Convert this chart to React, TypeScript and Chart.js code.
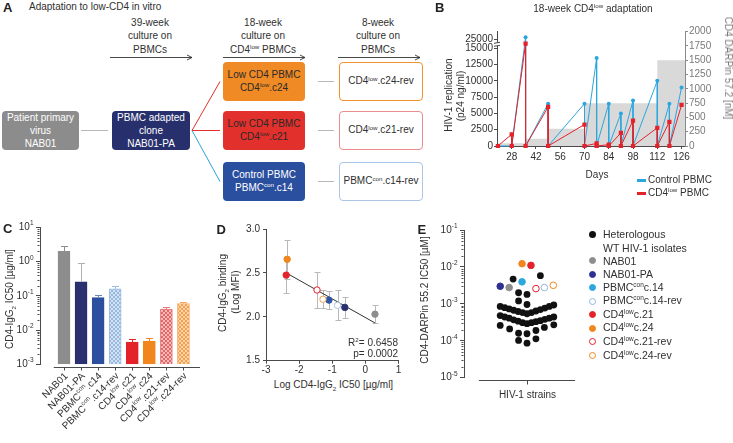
import React, { useEffect, useRef } from 'react';
import { Chart, registerables } from 'chart.js';

Chart.register(...registerables);

const FONT = '"Liberation Sans", Arial, Helvetica, sans-serif';
const TXT = '#303030';
const AXIS = '#4a4a4a';
Chart.defaults.font.family = FONT;
Chart.defaults.font.size = 10;
Chart.defaults.color = TXT;

// ---------------- Panel B data ----------------
const bDaysControl = [20, 28, 36, 36, 49, 49, 70, 70, 77, 77, 84, 84, 91, 91, 98, 98, 112, 112, 119, 119, 126];
const bP24Control = [0, 0, 27000, 0, 6500, 0, 6500, 0, 13500, 0, 6500, 0, 5000, 0, 7000, 0, 10000, 0, 6500, 0, 9000];
const bDaysLow = [20, 28, 28, 36, 36, 49, 49, 70, 70, 77, 77, 84, 84, 91, 91, 98, 98, 112, 112, 119, 119, 126];
const bP24Low = [0, 1800, 0, 20000, 0, 6000, 0, 3300, 0, 400, 0, 200, 0, 2000, 0, 3900, 0, 2800, 0, 3700, 0, 6300];
const bDarpinDays = [20, 36, 49, 70, 112, 119, 128];
const bDarpinConc = [0, 50, 125, 300, 750, 1500, 1500];
const bDayTicks = [28, 42, 56, 70, 84, 98, 112, 126];
const bP24Ticks = [0, 2500, 5000, 7500, 10000, 12500, 15000, 25000];
const bDarpinTicks = [0, 250, 500, 750, 1000, 1250, 1500, 1750, 2000];
const B_BREAK = 15000;
const B_COMPRESS = 0.1425;
const tf = (v: number) => (v <= B_BREAK ? v : B_BREAK + (v - B_BREAK) * B_COMPRESS);

// ---------------- Panel C data ----------------
const cStrains = ['NAB01', 'NAB01-PA', 'PBMC{^con}.c14', 'PBMC{^con}.c14-rev', 'CD4{^low}.c21', 'CD4{^low}.c24', 'CD4{^low}.c21-rev', 'CD4{^low}.c24-rev'];
const cIC50 = [2.0, 0.26, 0.089, 0.16, 0.0045, 0.0048, 0.041, 0.06];
const cIC50Upper = [2.9, 0.9, 0.105, 0.19, 0.0054, 0.0059, 0.048, 0.067];
const cTickValues = [0.001, 0.01, 0.1, 1, 10];
const cTickLabels = ['10{^-3}', '10{^-2}', '10{^-1}', '10{^0}', '10{^1}'];
const C_MIN = 0.001;

// ---------------- Panel D data ----------------
const dStrains = ['NAB01', 'NAB01-PA', 'PBMC{^con}.c14', 'PBMC{^con}.c14-rev', 'CD4{^low}.c21', 'CD4{^low}.c24', 'CD4{^low}.c21-rev', 'CD4{^low}.c24-rev'];
const dLogIC50 = [0.29, -0.62, -1.1, -0.84, -2.39, -2.36, -1.46, -1.28];
const dLogMFI = [2.03, 2.107, 2.19, 2.13, 2.475, 2.655, 2.305, 2.2];
const dSd = [0.1, 0.12, 0.1, 0.17, 0.2, 0.22, 0.2, 0.1];
const dFitX = [-2.39, 0.29];
const dFitY = [2.5, 1.93];
const dTicksX = [-3, -2, -1, 0, 1];
const dTicksY = [1.5, 2.0, 2.5, 3.0];

// ---------------- Panel E data ----------------
const eStrains = ['NAB01', 'NAB01-PA', 'PBMC{^con}c.14', 'PBMC{^con}c.14-rev', 'CD4{^low}c.21', 'CD4{^low}c.24', 'CD4{^low}c.21-rev', 'CD4{^low}c.24-rev'];
const eStrainOffset = [-18, -27, -5, 17.5, 4, -5, 9, 26.5];
const eStrainIC50 = [0.00276, 0.00299, 0.00394, 0.00276, 0.011, 0.0122, 0.00259, 0.00318];
const eWtOffset = [
  -14, 13.5,
  -8.5, 0, -8.5, 0,
  -27, -22.5, -18, -13.5, -9, -4.5, 0, 4.5, 9, 13.5, 18, 22.5, 27,
  -27, -22.5, -18, -13.5, -9, -4.5, 0, 4.5, 9, 13.5, 18, 22.5, 27,
  -27, -17.5, -8.5, 0, 9, 17.5, 27,
  -8.5, 9, 0,
];
const eWtIC50 = [
  0.0047, 0.0058,
  0.002, 0.0018, 0.0012, 0.00096,
  0.00085, 0.00079, 0.00073, 0.00067, 0.00062, 0.00058, 0.00054, 0.00058, 0.00064, 0.0007, 0.00077, 0.00085, 0.00093,
  0.00048, 0.00044, 0.00041, 0.00037, 0.00034, 0.00031, 0.00029, 0.00031, 0.00033, 0.00035, 0.00038, 0.00041, 0.00044,
  0.00026, 0.00021, 0.00016, 0.000155, 0.00019, 0.00023, 0.00027,
  0.000102, 0.000113, 0.000086,
];
const eTickValues = [0.00001, 0.0001, 0.001, 0.01, 0.1];
const eTickLabels = ['10{^-5}', '10{^-4}', '10{^-3}', '10{^-2}', '10{^-1}'];

// ---------------- colours ----------------
const GRAY = '#8d8d8d';
const NAVY = '#2a3070';
const BLUE = '#2c4f9e';
const CYAN = '#2ba6df';
const RED = '#e3222a';
const ORANGE = '#f0861d';

// ---------------- rich text helpers ----------------
type Part = { t: string; k: 'n' | 'sup' | 'sub' };
function parseRich(s: string): Part[] {
  return s
    .split(/(\{[\^_][^}]*\})/)
    .filter((p) => p.length > 0)
    .map((p) => {
      if (p.startsWith('{^')) return { t: p.slice(2, -1), k: 'sup' as const };
      if (p.startsWith('{_')) return { t: p.slice(2, -1), k: 'sub' as const };
      return { t: p, k: 'n' as const };
    });
}

function drawRich(ctx: CanvasRenderingContext2D, s: string, x: number, y: number, size: number, align: string, color: string) {
  const parts = parseRich(s);
  const fontFor = (k: string) => `${k === 'n' ? size : size * 0.65}px ${FONT}`;
  let w = 0;
  for (const p of parts) {
    ctx.font = fontFor(p.k);
    w += ctx.measureText(p.t).width;
  }
  let cx = align === 'left' ? x : align === 'right' ? x - w : x - w / 2;
  ctx.fillStyle = color;
  ctx.textBaseline = 'middle';
  ctx.textAlign = 'left';
  for (const p of parts) {
    ctx.font = fontFor(p.k);
    const dy = p.k === 'sup' ? -size * 0.38 : p.k === 'sub' ? size * 0.3 : 0;
    ctx.fillText(p.t, cx, y + dy);
    cx += ctx.measureText(p.t).width;
  }
}

function Rich({ s }: { s: string }) {
  return (
    <>
      {parseRich(s).map((p, i) =>
        p.k === 'n' ? (
          <span key={i}>{p.t}</span>
        ) : (
          <span key={i} style={{ fontSize: '0.62em', position: 'relative', top: p.k === 'sup' ? '-0.6em' : '0.45em' }}>
            {p.t}
          </span>
        )
      )}
    </>
  );
}

function Txt({ x, y, s, size = 10, align = 'left', rot = 0, bold = false, color = TXT }: any) {
  const tx = align === 'center' ? '-50%' : align === 'right' ? '-100%' : '0%';
  return (
    <div
      style={{
        position: 'absolute',
        left: x,
        top: y,
        transform: `translate(${tx}, -50%)${rot ? ` rotate(${rot}deg)` : ''}`,
        whiteSpace: 'nowrap',
        fontSize: size,
        lineHeight: `${Math.round(size * 1.2)}px`,
        fontWeight: bold ? 700 : 400,
        color,
      }}
    >
      <Rich s={s} />
    </div>
  );
}

function Box({ x, y, w, h, bg, border, color, lines }: any) {
  return (
    <div
      style={{
        position: 'absolute',
        left: x,
        top: y,
        width: w,
        height: h,
        background: bg,
        border: border ? `1px solid ${border}` : 'none',
        boxSizing: 'border-box',
        borderRadius: 4,
        color,
        display: 'flex',
        flexDirection: 'column',
        alignItems: 'center',
        justifyContent: 'center',
        fontSize: 10,
        lineHeight: '13.3px',
      }}
    >
      {lines.map((l: string, i: number) => (
        <div key={i} style={{ whiteSpace: 'nowrap' }}>
          <Rich s={l} />
        </div>
      ))}
    </div>
  );
}

function hatch(bg: string, fg: string): any {
  const c = document.createElement('canvas');
  c.width = 4;
  c.height = 4;
  const g = c.getContext('2d')!;
  g.fillStyle = bg;
  g.fillRect(0, 0, 4, 4);
  g.fillStyle = fg;
  for (let i = 0; i < 4; i++) {
    g.fillRect(i, i, 1, 1);
    g.fillRect(3 - i, i, 1, 1);
  }
  return g.createPattern(c, 'repeat');
}

const line = (ctx: CanvasRenderingContext2D, x1: number, y1: number, x2: number, y2: number) => {
  ctx.beginPath();
  ctx.moveTo(x1, y1);
  ctx.lineTo(x2, y2);
  ctx.stroke();
};

const baseOpts = {
  responsive: false,
  maintainAspectRatio: false,
  animation: false as const,
  events: [] as any[],
};
const noPlugins = { legend: { display: false }, tooltip: { enabled: false }, title: { display: false } };

// ---------------- Panel B ----------------
function makeB(canvas: HTMLCanvasElement) {
  const xy = (xs: number[], ys: number[], f = (v: number) => v) => xs.map((x, i) => ({ x, y: f(ys[i]) }));
  const breakPlugin = {
    id: 'bBreak',
    afterDraw(chart: any) {
      const { ctx } = chart;
      const s = chart.scales.y;
      const x = s.right;
      const yA = s.getPixelForValue(tf(B_BREAK)) - 2.5;
      ctx.save();
      ctx.fillStyle = '#fff';
      ctx.fillRect(x - 2, yA - 3, 4, 3);
      ctx.strokeStyle = AXIS;
      ctx.lineWidth = 1;
      line(ctx, x - 3, yA + 0.5, x + 3, yA - 0.5);
      line(ctx, x - 3, yA - 2.5, x + 3, yA - 3.5);
      ctx.restore();
    },
  };
  return new Chart(canvas, {
    type: 'line',
    data: {
      datasets: [
        { data: xy(bDaysLow, bP24Low, tf), borderColor: RED, backgroundColor: RED, borderWidth: 1, pointStyle: 'rect', pointRadius: 3, pointBorderWidth: 0, yAxisID: 'y', clip: 6 } as any,
        { data: xy(bDaysControl, bP24Control, tf), borderColor: CYAN, backgroundColor: CYAN, borderWidth: 1, pointStyle: 'circle', pointRadius: 2, pointBorderWidth: 0, yAxisID: 'y', clip: 6 },
        { data: xy(bDarpinDays, bDarpinConc), yAxisID: 'y1', stepped: 'after', fill: 'origin', backgroundColor: '#d9d9d9', borderWidth: 0, borderColor: 'rgba(0,0,0,0)', pointRadius: 0 },
      ],
    },
    options: {
      ...baseOpts,
      layout: { padding: { top: 31.7, left: 0, right: 0, bottom: 0 } },
      plugins: noPlugins,
      scales: {
        x: {
          type: 'linear', min: 19.5, max: 128, offset: false,
          grid: { drawOnChartArea: false, tickLength: 3, color: AXIS, tickColor: AXIS },
          border: { color: AXIS },
          afterBuildTicks: (s: any) => { s.ticks = bDayTicks.map((v) => ({ value: v })); },
          afterFit: (s: any) => { s.height = 24; },
          ticks: { padding: 2, maxRotation: 0, autoSkip: false, color: TXT, callback: (v: any) => String(v) },
        },
        y: {
          position: 'left', min: 0, max: 17550,
          grid: { drawOnChartArea: false, tickLength: 3, color: AXIS, tickColor: AXIS },
          border: { color: AXIS },
          afterBuildTicks: (s: any) => { s.ticks = bP24Ticks.map((v) => ({ value: tf(v) })); },
          afterFit: (s: any) => { s.width = 117; },
          ticks: { padding: 1, autoSkip: false, color: TXT, callback: (_v: any, i: number) => String(bP24Ticks[i]) },
        },
        y1: {
          position: 'right', min: 0, max: 2000,
          grid: { drawOnChartArea: false, tickLength: 3, color: '#8a8a8a', tickColor: '#8a8a8a' },
          border: { color: '#8a8a8a' },
          afterBuildTicks: (s: any) => { s.ticks = bDarpinTicks.map((v) => ({ value: v })); },
          afterFit: (s: any) => { s.width = 48; },
          ticks: { padding: 1, autoSkip: false, color: '#7a7a7a', callback: (_v: any, i: number) => String(bDarpinTicks[i]) },
        },
      } as any,
    },
    plugins: [breakPlugin],
  } as any);
}

// ---------------- Panel C ----------------
function makeC(canvas: HTMLCanvasElement) {
  const fills = [GRAY, NAVY, BLUE, hatch('#d3e3f4', '#97b9e0'), RED, ORANGE, hatch('#f7b9b9', '#e46868'), hatch('#fcd5ab', '#f4a050')];
  const borders = ['#8d8d8d', '#262d68', '#2c4f9e', '#9dbde3', '#e3222a', '#f0861d', '#e77a7a', '#f4a860'];
  const errColors = ['#8d8d8d', '#b0b0b0', '#6d83b8', '#9dbde3', '#e3222a', '#f0861d', '#e77a7a', '#f4a860'];
  const plugin = {
    id: 'cExtras',
    afterDraw(chart: any) {
      const { ctx, chartArea } = chart;
      const xs = chart.scales.x;
      const ys = chart.scales.y;
      ctx.save();
      ctx.lineWidth = 1;
      cIC50.forEach((v, i) => {
        const px = Math.round(xs.getPixelForValue(i)) + 0.5;
        const y0 = ys.getPixelForValue(v);
        const y1 = Math.round(ys.getPixelForValue(cIC50Upper[i])) + 0.5;
        ctx.strokeStyle = errColors[i];
        line(ctx, px, y0, px, y1);
        line(ctx, px - 3.5, y1, px + 3.5, y1);
      });
      const ax = chartArea.left - 0.5;
      ctx.strokeStyle = AXIS;
      for (let d = -3; d < 1; d++) {
        for (let k = 2; k <= 9; k++) {
          const py = Math.round(ys.getPixelForValue(k * Math.pow(10, d))) + 0.5;
          line(ctx, ax - 2, py, ax, py);
        }
      }
      cTickValues.forEach((v, i) => drawRich(ctx, cTickLabels[i], ax - 6, ys.getPixelForValue(v), 10, 'right', TXT));
      const yl = Math.round(chartArea.bottom + 3) + 0.5;
      line(ctx, xs.getPixelForValue(-0.6), yl, chartArea.right, yl);
      cStrains.forEach((s, i) => {
        const px = Math.round(xs.getPixelForValue(i)) + 0.5;
        line(ctx, px, yl, px, yl + 3);
        ctx.save();
        ctx.translate(px + 2, yl + 7);
        ctx.rotate(-Math.PI / 4);
        drawRich(ctx, s, 0, 0, 10, 'right', TXT);
        ctx.restore();
      });
      ctx.restore();
    },
  };
  return new Chart(canvas, {
    type: 'bar',
    data: {
      datasets: [
        {
          data: cIC50.map((v, i) => ({ x: i, y: [C_MIN, v] })),
          backgroundColor: fills,
          borderColor: borders,
          borderWidth: 1,
          borderSkipped: 'start',
          barThickness: 12,
        },
      ],
    },
    options: {
      ...baseOpts,
      layout: { padding: { top: 12.5, right: 5, bottom: 78.7, left: 0 } },
      plugins: noPlugins,
      scales: {
        x: { type: 'linear', display: false, min: -1.406, max: 7.97, offset: false, grid: { offset: false } },
        y: {
          type: 'logarithmic', min: C_MIN, max: 10,
          grid: { drawOnChartArea: false, tickLength: 4, color: AXIS, tickColor: AXIS },
          border: { color: AXIS },
          afterBuildTicks: (s: any) => { s.ticks = cTickValues.map((v) => ({ value: v })); },
          afterFit: (s: any) => { s.width = 40; },
          ticks: { display: false },
        },
      } as any,
    },
    plugins: [plugin],
  } as any);
}

// ---------------- Panel D ----------------
function makeD(canvas: HTMLCanvasElement) {
  const stroke = [GRAY, NAVY, '#2d55a5', '#a9c4e6', RED, ORANGE, RED, '#f0a050'];
  const fill = [GRAY, NAVY, '#2d55a5', '#ffffff', RED, ORANGE, '#ffffff', '#ffffff'];
  const errPlugin = {
    id: 'dErr',
    beforeDatasetsDraw(chart: any) {
      const { ctx } = chart;
      const xs = chart.scales.x;
      const ys = chart.scales.y;
      ctx.save();
      ctx.strokeStyle = '#b8b8b8';
      ctx.lineWidth = 1;
      dLogIC50.forEach((x, i) => {
        const px = Math.round(xs.getPixelForValue(x)) + 0.5;
        const yt = Math.round(ys.getPixelForValue(dLogMFI[i] + dSd[i])) + 0.5;
        const yb = Math.round(ys.getPixelForValue(dLogMFI[i] - dSd[i])) + 0.5;
        line(ctx, px, yt, px, yb);
        line(ctx, px - 3, yt, px + 3, yt);
        line(ctx, px - 3, yb, px + 3, yb);
      });
      ctx.restore();
    },
  };
  return new Chart(canvas, {
    type: 'scatter',
    data: {
      datasets: [
        { label: 'strains', data: dLogIC50.map((x, i) => ({ x, y: dLogMFI[i] })), pointRadius: 3.2, pointBackgroundColor: fill, pointBorderColor: stroke, pointBorderWidth: 1, clip: false } as any,
        { label: 'fit', data: dFitX.map((x, i) => ({ x, y: dFitY[i] })), showLine: true, borderColor: '#333', borderWidth: 1, pointRadius: 0 },
      ],
    },
    options: {
      ...baseOpts,
      layout: { padding: { top: 14, right: 11.5, bottom: 0, left: 0 } },
      plugins: noPlugins,
      scales: {
        x: {
          type: 'linear', min: -3, max: 1,
          grid: { drawOnChartArea: false, tickLength: 3, color: AXIS, tickColor: AXIS },
          border: { color: AXIS },
          afterBuildTicks: (s: any) => { s.ticks = dTicksX.map((v) => ({ value: v })); },
          afterFit: (s: any) => { s.height = 14.3; },
          ticks: { padding: 1, autoSkip: false, maxRotation: 0, color: TXT },
        },
        y: {
          type: 'linear', min: 1.5, max: 3.0,
          grid: { drawOnChartArea: false, tickLength: 3, color: AXIS, tickColor: AXIS },
          border: { color: AXIS },
          afterBuildTicks: (s: any) => { s.ticks = dTicksY.map((v) => ({ value: v })); },
          afterFit: (s: any) => { s.width = 61; },
          ticks: { padding: 3, autoSkip: false, color: TXT, callback: (v: any) => Number(v).toFixed(1) },
        },
      } as any,
    },
    plugins: [errPlugin],
  } as any);
}

// ---------------- Panel E ----------------
function makeE(canvas: HTMLCanvasElement) {
  const stroke = [GRAY, '#2e3192', CYAN, '#8fb5e0', RED, ORANGE, RED, ORANGE];
  const fill = [GRAY, '#2e3192', CYAN, '#ffffff', RED, ORANGE, '#ffffff', '#ffffff'];
  const plugin = {
    id: 'eExtras',
    afterDraw(chart: any) {
      const { ctx, chartArea } = chart;
      const xs = chart.scales.x;
      const ys = chart.scales.y;
      ctx.save();
      ctx.strokeStyle = AXIS;
      ctx.lineWidth = 1;
      const ax = chartArea.left - 0.5;
      for (let d = -5; d < -1; d++) {
        for (let k = 2; k <= 9; k++) {
          const py = Math.round(ys.getPixelForValue(k * Math.pow(10, d))) + 0.5;
          line(ctx, ax - 2, py, ax, py);
        }
      }
      eTickValues.forEach((v, i) => drawRich(ctx, eTickLabels[i], ax - 6, ys.getPixelForValue(v), 10, 'right', TXT));
      const yl = Math.round(chartArea.bottom + 2.3) + 0.5;
      line(ctx, xs.getPixelForValue(-48.5), yl, xs.getPixelForValue(48.5), yl);
      const cx = Math.round(xs.getPixelForValue(0)) + 0.5;
      line(ctx, cx, yl, cx, yl + 4);
      ctx.restore();
    },
  };
  return new Chart(canvas, {
    type: 'scatter',
    data: {
      datasets: [
        { label: 'strains', data: eStrainOffset.map((x, i) => ({ x, y: eStrainIC50[i] })), pointRadius: 3.3, pointBackgroundColor: fill, pointBorderColor: stroke, pointBorderWidth: 1, clip: false } as any,
        { label: 'WT', data: eWtOffset.map((x, i) => ({ x, y: eWtIC50[i] })), pointRadius: 3.4, pointBackgroundColor: '#111', pointBorderColor: '#111', pointBorderWidth: 0, clip: false },
      ],
    },
    options: {
      ...baseOpts,
      layout: { padding: { top: 15, right: 4, bottom: 7.3, left: 0 } },
      plugins: noPlugins,
      scales: {
        x: { type: 'linear', display: false, min: -63.5, max: 63.5 },
        y: {
          type: 'logarithmic', min: 0.00001, max: 0.1,
          grid: { drawOnChartArea: false, tickLength: 4, color: AXIS, tickColor: AXIS },
          border: { color: AXIS },
          afterBuildTicks: (s: any) => { s.ticks = eTickValues.map((v) => ({ value: v })); },
          afterFit: (s: any) => { s.width = 59; },
          ticks: { display: false },
        },
      } as any,
    },
    plugins: [plugin],
  } as any);
}

// ---------------- Panel A layout ----------------
const headerBlocks = [
  { cx: 150, lines: ['39-week', 'culture on', 'PBMCs'], x1: 110, x2: 192 },
  { cx: 263, lines: ['18-week', 'culture on', 'CD4{^low} PBMCs'], x1: 223, x2: 305 },
  { cx: 378, lines: ['8-week', 'culture on', 'PBMCs'], x1: 338, x2: 420 },
];
const flowBoxes = [
  { x: 2, y: 111, w: 77, h: 39, bg: '#8c8c8c', color: '#fff', lines: ['Patient primary', 'virus', 'NAB01'] },
  { x: 112, y: 111, w: 78, h: 39, bg: '#27306c', color: '#fff', lines: ['PBMC adapted', 'clone', 'NAB01-PA'] },
  { x: 223, y: 62, w: 82, h: 39, bg: '#ef8a24', color: '#2a2a2a', lines: ['Low CD4 PBMC', 'CD4{^low}.c24'] },
  { x: 223, y: 111, w: 82, h: 39, bg: '#e2302c', color: '#2a2a2a', lines: ['Low CD4 PBMC', 'CD4{^low}.c21'] },
  { x: 223, y: 162, w: 82, h: 39, bg: '#2b4f9f', color: '#fff', lines: ['Control PBMC', 'PBMC{^con}.c14'] },
  { x: 339, y: 62, w: 84, h: 39, bg: '#fff', border: '#f0922e', color: TXT, lines: ['CD4{^low}.c24-rev'] },
  { x: 339, y: 111, w: 84, h: 39, bg: '#fff', border: '#ec8d8d', color: TXT, lines: ['CD4{^low}.c21-rev'] },
  { x: 339, y: 162, w: 84, h: 39, bg: '#fff', border: '#a9c5e7', color: TXT, lines: ['PBMC{^con}.c14-rev'] },
];

const eLegend = [
  { y: 260.7, fill: GRAY, stroke: GRAY },
  { y: 274.3, fill: '#2e3192', stroke: '#2e3192' },
  { y: 287.5, fill: CYAN, stroke: CYAN },
  { y: 301.2, fill: '#fff', stroke: '#8fb5e0' },
  { y: 314.7, fill: RED, stroke: RED },
  { y: 328.3, fill: ORANGE, stroke: ORANGE },
  { y: 341.9, fill: '#fff', stroke: RED },
  { y: 355.6, fill: '#fff', stroke: ORANGE },
];

export default function App() {
  const bRef = useRef<HTMLCanvasElement>(null);
  const cRef = useRef<HTMLCanvasElement>(null);
  const dRef = useRef<HTMLCanvasElement>(null);
  const eRef = useRef<HTMLCanvasElement>(null);

  useEffect(() => {
    const charts = [makeB(bRef.current!), makeC(cRef.current!), makeD(dRef.current!), makeE(eRef.current!)];
    return () => charts.forEach((c) => c.destroy());
  }, []);

  const cv = (left: number, top: number, w: number, h: number) => ({ position: 'absolute' as const, left, top, width: w, height: h });

  return (
    <div style={{ position: 'fixed', left: 0, top: 0, width: 733, height: 443, background: '#fff', overflow: 'hidden', fontFamily: FONT, color: TXT }}>
      {/* Panel A */}
      <svg width={733} height={215} style={{ position: 'absolute', left: 0, top: 0 }}>
        {headerBlocks.map((b) => (
          <g key={b.cx}>
            <line x1={b.x1} y1={57.5} x2={b.x2} y2={57.5} stroke="#333" strokeWidth={0.9} />
            <polyline points={`${b.x2 - 5},55 ${b.x2},57.5 ${b.x2 - 5},60`} fill="none" stroke="#333" strokeWidth={0.9} />
          </g>
        ))}
        <line x1={81} y1={130.5} x2={108} y2={130.5} stroke="#b8b8b8" strokeWidth={1} />
        <line x1={192} y1={130.5} x2={220} y2={81.5} stroke="#e2302c" strokeWidth={1} />
        <line x1={192} y1={130.5} x2={220} y2={130.5} stroke="#e2302c" strokeWidth={1} />
        <line x1={192} y1={130.5} x2={220} y2={181.5} stroke="#2aa4dc" strokeWidth={1} />
        {[81.5, 130.5, 181.5].map((y) => (
          <line key={y} x1={318} y1={y} x2={334} y2={y} stroke="#b8b8b8" strokeWidth={1} />
        ))}
      </svg>
      <Txt x={3} y={8} s="A" size={13} bold color="#222" />
      <Txt x={29} y={6.5} s="Adaptation to low-CD4 in vitro" />
      {headerBlocks.map((b) =>
        b.lines.map((l, i) => <Txt key={`${b.cx}-${i}`} x={b.cx} y={23.3 + i * 13.1} s={l} align="center" />)
      )}
      {flowBoxes.map((b, i) => (
        <Box key={i} {...b} />
      ))}

      {/* Canvases */}
      <canvas ref={bRef} width={353} height={170} style={cv(380, 0, 353, 170)} />
      <canvas ref={cRef} width={205} height={228} style={cv(0, 215, 205, 228)} />
      <canvas ref={dRef} width={205} height={160} style={cv(205, 215, 205, 160)} />
      <canvas ref={eRef} width={190} height={170} style={cv(405, 215, 190, 170)} />

      {/* Panel B text */}
      <Txt x={435} y={7.5} s="B" size={13} bold color="#222" />
      <Txt x={593} y={9} s="18-week CD4{^low} adaptation" align="center" />
      <Txt x={449} y={95} s="HIV-1 replication" align="center" rot={-90} />
      <Txt x={460.5} y={96} s="(p24 ng/ml)" align="center" rot={-90} />
      <Txt x={727.5} y={68} s="CD4 DARPin 57.2 [nM]" align="center" rot={90} color="#7a7a7a" />
      <Txt x={597} y={175} s="Days" align="center" />
      <div style={{ position: 'absolute', left: 637, top: 178.5, width: 9, height: 3, background: CYAN }} />
      <Txt x={648} y={180} s="Control PBMC" />
      <div style={{ position: 'absolute', left: 637, top: 191.5, width: 9, height: 3, background: RED }} />
      <Txt x={648} y={193} s="CD4{^low} PBMC" />

      {/* Panel C text */}
      <Txt x={3} y={228.5} s="C" size={13} bold color="#222" />
      <Txt x={10} y={299} s="CD4-IgG{_2} IC50 [µg/ml]" align="center" rot={-90} />

      {/* Panel D text */}
      <Txt x={216.5} y={229.5} s="D" size={13} bold color="#222" />
      <Txt x={222.5} y={293} s="CD4-IgG{_2} binding" align="center" rot={-90} />
      <Txt x={235.5} y={292} s="(Log MFI)" align="center" rot={-90} />
      <Txt x={333.5} y={385} s="Log CD4-IgG{_2} IC50 [µg/ml]" align="center" />
      <Txt x={398} y={342.7} s="R{^2}= 0.6458" align="right" />
      <Txt x={398} y={353.5} s="p= 0.0002" align="right" />

      {/* Panel E text */}
      <Txt x={417.5} y={229.5} s="E" size={13} bold color="#222" />
      <Txt x={425} y={300} s="CD4-DARPin 55.2 IC50 [µM]" align="center" rot={-90} />
      <Txt x={527.5} y={395} s="HIV-1 strains" align="center" />
      <div style={{ position: 'absolute', left: 588.5, top: 231, width: 7, height: 7, borderRadius: '50%', background: '#111' }} />
      <Txt x={603} y={234.3} s="Heterologous" size={10.5} />
      <Txt x={603} y={247.5} s="WT HIV-1 isolates" size={10.5} />
      {eLegend.map((it, i) => (
        <React.Fragment key={i}>
          <div
            style={{
              position: 'absolute',
              left: 588.5,
              top: it.y - 3.5,
              width: 7,
              height: 7,
              boxSizing: 'border-box',
              borderRadius: '50%',
              background: it.fill,
              border: `1px solid ${it.stroke}`,
            }}
          />
          <Txt x={603} y={it.y} s={eStrains[i]} size={10.5} />
        </React.Fragment>
      ))}
    </div>
  );
}
